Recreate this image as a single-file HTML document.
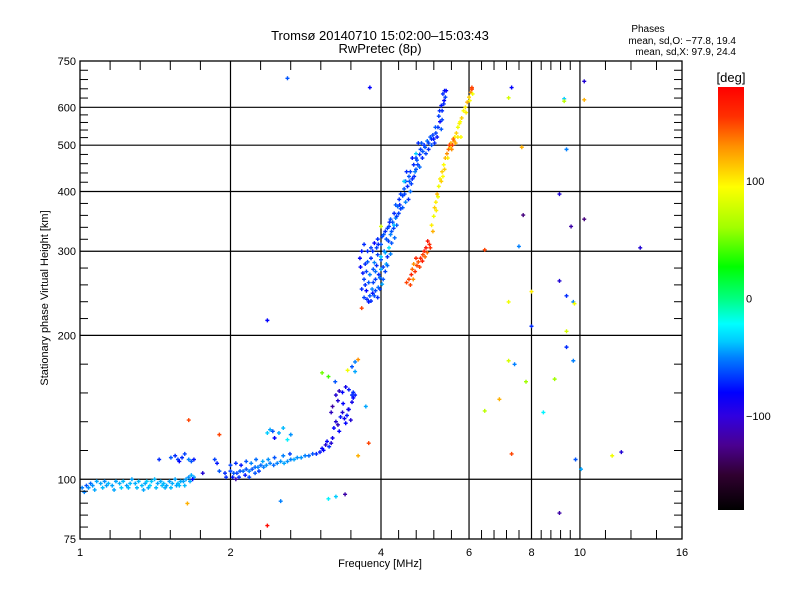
<!DOCTYPE html>
<html><head><meta charset="utf-8"><style>
body{margin:0;background:#fff}
svg{display:block;font-family:"Liberation Sans",sans-serif}
</style></head><body>
<svg id="chart" width="800" height="600" viewBox="0 0 800 600" xmlns="http://www.w3.org/2000/svg">
<defs>
<linearGradient id="cbar" x1="0" y1="1" x2="0" y2="0">
<stop offset="0" stop-color="#000000"/>
<stop offset="0.083" stop-color="#300030"/>
<stop offset="0.153" stop-color="#4a0090"/>
<stop offset="0.222" stop-color="#3000e0"/>
<stop offset="0.278" stop-color="#0000ff"/>
<stop offset="0.36" stop-color="#0080ff"/>
<stop offset="0.397" stop-color="#00c8ff"/>
<stop offset="0.44" stop-color="#00ffff"/>
<stop offset="0.5" stop-color="#00ff80"/>
<stop offset="0.575" stop-color="#00ff00"/>
<stop offset="0.667" stop-color="#a0ff00"/>
<stop offset="0.764" stop-color="#ffff00"/>
<stop offset="0.86" stop-color="#ff9000"/>
<stop offset="0.93" stop-color="#ff3000"/>
<stop offset="1" stop-color="#ff0000"/>
</linearGradient>
</defs>
<rect x="0" y="0" width="800" height="600" fill="#fff"/>
<text x="380" y="40" font-size="13" text-anchor="middle">Tromsø 20140710 15:02:00–15:03:43</text>
<text x="380" y="53" font-size="13" text-anchor="middle">RwPretec (8p)</text>
<text x="648" y="32" font-size="10" text-anchor="middle">Phases</text>
<text x="736" y="44" font-size="10" text-anchor="end">mean, sd,O: −77.8, 19.4</text>
<text x="736" y="55" font-size="10" text-anchor="end">mean, sd,X:  97.9, 24.4</text>
<g id="grid"></g>
<g id="marks"></g>
<g id="axes"></g>
<text x="380" y="567" font-size="11" text-anchor="middle">Frequency [MHz]</text>
<text x="48" y="298" font-size="11" text-anchor="middle" transform="rotate(-90 48 298)">Stationary phase Virtual Height [km]</text>
<rect x="718" y="87" width="26" height="423" fill="url(#cbar)"/>
<text x="731" y="82" font-size="13" text-anchor="middle">[deg]</text>
<g id="cbticks"></g>
</svg>
<script>
const xMajor=[1,2,4,6,8,10,16];
const xLabels=["1","2","4","6","8","10","16"];
const yMajor=[75,100,200,300,400,500,600,750];
const yLabels=["75","100","200","300","400","500","600","750"];
const cbTicks=[100,0,-100];
const cbLabels=["100","0","−100"];
// [frequency MHz, virtual height km, phase deg]
const lowBand=[[1.01,96,-70],[1.03,97,-80],[1.05,98,-75],[1.06,97,-65],[1.08,99,-60],[1.10,98,-60],[1.12,99,-65],[1.14,98,-55],[1.16,97,-60],[1.18,99,-60],[1.20,98,-58],[1.22,99,-55],[1.24,97,-62],[1.27,100,-60],[1.29,98,-58],[1.31,99,-55],[1.33,97,-55],[1.35,98,-60],[1.37,96,-58],[1.39,99,-52],[1.41,100,-55],[1.43,98,-60],[1.45,99,-58],[1.47,98,-55],[1.49,97,-60],[1.51,99,-62],[1.53,98,-58],[1.55,100,-60],[1.57,98,-55],[1.59,99,-58],[1.61,99,-60],[1.63,100,-62],[1.65,101,-65],[1.67,102,-58],[1.69,101,-62],[1.04,96,-65],[1.13,97,-62],[1.26,98,-55],[1.36,99,-50],[1.46,97,-55],[1.56,97,-60]];
const lowBand2=[[1.02,94,-70],[1.07,95,-60],[1.11,96,-55],[1.17,95,-60],[1.21,96,-50],[1.25,96,-55],[1.30,96,-55],[1.34,95,-60],[1.38,97,-50],[1.42,96,-55],[1.48,96,-58],[1.52,96,-55],[1.58,97,-55],[1.62,97,-55],[1.66,99,-60]];
const upperBlobs=[[1.52,111,-80],[1.55,112,-90],[1.57,110,-85],[1.58,109,-100],[1.60,111,-90],[1.62,113,-85],[1.65,110,-70],[1.67,109,-80],[1.69,110,-95],[1.44,110,-90],[1.86,110,-85],[1.88,108,-95],[1.68,100,-100],[1.76,103,-110],[2.05,100,-120]];
const risingBand=[[1.90,104,-80],[1.95,103,-90],[2.00,104,-85],[2.03,103,-80],[2.06,103,-85],[2.09,104,-80],[2.12,104,-75],[2.15,105,-80],[2.18,104,-70],[2.21,105,-80],[2.24,106,-75],[2.27,106,-70],[2.30,107,-75],[2.33,106,-70],[2.36,107,-65],[2.40,108,-70],[2.44,107,-75],[2.48,108,-70],[2.52,109,-65],[2.56,108,-60],[2.60,109,-65],[2.64,110,-70],[2.68,110,-60],[2.72,111,-65],[2.77,111,-65],[2.82,112,-70],[2.87,112,-75],[2.92,113,-80],[2.97,113,-90],[3.02,114,-95],[3.07,115,-100],[2.00,107,-85],[2.05,108,-90],[2.10,107,-95],[2.15,109,-80],[2.20,108,-70],[2.25,110,-75],[2.32,109,-60],[2.38,110,-65],[2.45,111,-80],[2.55,112,-70],[2.63,113,-85]];
const risingBand2=[[1.96,101,-90],[2.02,101,-95],[2.08,101,-90],[2.14,102,-95],[2.18,101,-85],[2.24,103,-80],[2.28,104,-85]];
const midBlob=[[2.37,125,-50],[2.40,127,-60],[2.43,126,-80],[2.50,125,-60],[2.55,128,-55],[2.60,121,-40],[2.64,124,-65],[2.45,122,-100]];
const cusp=[[3.05,116,-100],[3.10,118,-110],[3.12,120,-100],[3.15,117,-90],[3.18,119,-110],[3.20,122,-105],[3.22,128,-100],[3.25,132,-110],[3.28,130,-115],[3.30,126,-100],[3.32,135,-95],[3.35,138,-110],[3.38,134,-105],[3.40,131,-100],[3.42,136,-95],[3.45,140,-100],[3.48,133,-110],[3.50,145,-105],[3.52,148,-100],[3.55,150,-95],[3.25,150,-110],[3.30,153,-115],[3.35,152,-100],[3.40,156,-105],[3.45,154,-95],[3.50,150,-90],[3.20,142,-120],[3.28,146,-110],[3.36,144,-100],[3.44,140,-105],[3.52,152,-90],[3.18,138,-115],[3.24,160,-80],[3.50,172,-80],[3.55,176,-70],[3.55,168,-60],[3.14,164,40]];
const oTrace=[[3.70,240,-85],[3.75,238,-90],[3.80,242,-80],[3.85,245,-95],[3.90,248,-85],[3.95,252,-75],[3.72,255,-90],[3.78,258,-80],[3.84,250,-70],[3.90,262,-85],[3.96,268,-90],[4.02,256,-60],[3.68,270,-95],[3.74,272,-85],[3.80,268,-70],[3.86,275,-80],[3.92,280,-90],[3.98,264,-75],[4.04,278,-85],[4.10,282,-60],[3.63,290,-100],[3.66,300,-95],[3.70,310,-90],[3.76,285,-80],[3.82,290,-90],[3.88,284,-70],[3.94,295,-85],[4.00,288,-80],[4.06,300,-75],[4.12,292,-90],[4.18,296,-70],[3.85,300,-90],[3.92,305,-85],[4.00,310,-80],[4.08,298,-60],[4.14,315,-85],[4.20,312,-80],[4.26,320,-75],[3.95,310,-90],[4.02,322,-85],[4.10,318,-80],[4.18,325,-70],[4.24,335,-85],[4.30,340,-80],[4.08,330,-90],[4.15,338,-85],[4.22,345,-80],[4.28,352,-70],[4.34,360,-85],[4.18,350,-80],[4.25,360,-90],[4.32,372,-75],[4.38,368,-85],[4.28,375,-80],[4.35,385,-90],[4.42,392,-85],[4.48,380,-70],[4.38,395,-85],[4.45,405,-80],[4.52,410,-90],[4.58,400,-75],[4.48,420,-85],[4.55,430,-80],[4.62,425,-90],[4.68,440,-70],[4.58,440,-85],[4.65,455,-90],[4.72,465,-80],[4.78,450,-75],[4.70,470,-85],[4.78,478,-90],[4.85,485,-80],[4.80,490,-85],[4.88,500,-90],[4.95,510,-75],[4.90,495,-80],[4.98,505,-85],[5.05,515,-90],[5.02,520,-80],[5.10,515,-95],[5.15,530,-85],[5.20,545,-90],[5.25,560,-100],[5.22,575,-85],[5.30,590,-90],[5.28,605,-95],[5.35,620,-100],[5.32,640,-90],[5.38,630,-85],[5.36,650,-95],[4.75,505,-90],[4.62,470,-95],[4.50,440,-90]];
const oTrace2=[[3.66,250,-90],[3.70,262,-85],[3.74,248,-100],[3.78,235,-95],[3.82,236,-90],[3.86,258,-85],[3.88,242,-80],[3.94,240,-90],[3.98,250,-85],[4.04,262,-80],[4.08,272,-85],[4.12,280,-75],[3.72,282,-90],[3.64,278,-100],[3.90,272,-75],[4.0,275,-60],[3.76,300,-90],[3.82,305,-85],[3.88,312,-100],[3.94,318,-90],[4.05,325,-80],[4.12,335,-85],[4.16,345,-90],[4.20,330,-80],[4.30,355,-85],[4.36,375,-90],[4.42,370,-80],[4.46,395,-85],[4.54,385,-90],[4.56,420,-80],[4.60,415,-85],[4.66,430,-90],[4.70,445,-80],[4.74,455,-85],[4.84,470,-90],[4.82,505,-80],[4.92,480,-85],[4.98,490,-90],[5.05,500,-80],[5.08,525,-85],[5.12,505,-90],[5.14,545,-80],[5.18,520,-95],[5.24,590,-90],[5.30,565,-85],[5.34,610,-90],[5.40,650,-100],[5.28,540,-80],[4.0,292,-50],[4.15,305,-45],[4.25,340,-55],[4.45,420,-50],[4.7,480,-50]];
const xTrace=[[4.55,262,150],[4.60,268,160],[4.62,275,140],[4.68,272,155],[4.72,280,150],[4.75,285,145],[4.80,290,160],[4.85,295,150],[4.88,300,165],[4.92,305,170],[4.95,298,140],[5.00,310,160],[4.50,258,150],[4.65,282,130],[5.05,340,100],[5.10,355,90],[5.12,370,110],[5.15,380,100],[5.18,395,120],[5.22,410,90],[5.25,425,100],[5.30,440,110],[5.34,455,95],[5.38,470,120],[5.42,480,130],[5.46,490,140],[5.50,495,110],[5.52,505,120],[5.56,500,150],[5.60,510,130],[5.62,520,100],[5.66,530,110],[5.70,545,90],[5.74,555,100],[5.80,570,110],[5.85,590,95],[5.90,600,100],[5.95,615,120],[6.00,630,110],[6.05,645,130],[6.08,655,150],[6.10,640,90],[5.78,520,95]];
const xTrace2=[[4.58,255,150],[4.64,262,130],[4.70,290,160],[4.78,278,150],[4.84,286,165],[4.90,292,140],[4.96,315,170],[5.02,305,155],[5.08,330,120],[5.16,365,100],[5.20,390,90],[5.28,420,110],[5.32,430,95],[5.36,445,110],[5.44,470,100],[5.48,500,150],[5.54,490,130],[5.58,515,140],[5.64,505,120],[5.70,520,100],[5.76,560,95],[5.92,585,100],[6.02,620,95],[6.08,660,150]];
const scattered=[[7.3,660,-100],[7.2,628,80],[9.3,625,-50],[9.3,618,70],[10.2,680,-110],[10.2,622,120],[7.65,495,120],[9.4,490,-70],[9.1,395,-110],[7.7,357,-130],[10.2,350,-130],[9.6,338,-120],[7.55,307,-70],[6.45,302,150],[13.2,305,-110],[9.1,260,-110],[8.0,247,100],[7.2,235,90],[9.4,242,-90],[9.7,235,-70],[9.75,233,90],[8.0,209,-90],[9.4,204,80],[9.4,189,-90],[9.7,177,-70],[7.2,177,80],[7.4,174,-70],[7.8,160,60],[8.9,162,60],[6.9,147,120],[6.45,139,70],[8.45,138,-40],[7.3,113,150],[11.6,112,90],[12.1,114,-110],[9.8,110,-80],[10.05,105,-60],[9.1,85,-120],[2.6,690,-80],[3.8,660,-100],[2.37,215,-100],[3.66,228,150],[4.0,338,80],[1.65,133,150],[1.9,124,150],[1.64,89,120],[2.52,90,-70],[3.14,91,-40],[3.25,92,-50],[3.39,93,-120],[2.37,80,175],[3.6,178,130],[3.43,169,90],[3.05,167,50],[3.78,119,150],[3.6,112,120],[3.73,142,-60]];

const NS="http://www.w3.org/2000/svg";
const X0=80,X1=682,Y0=61,Y1=539;
function xs(f){return X0+(X1-X0)*Math.log2(f)/4;}
function ys(h){return Y1-(Y1-Y0)*Math.log10(h/75);}
function cbY(p){return 510-(p+180)/360*423;}
const cstops=[[-180,[0,0,0]],[-150,[48,0,48]],[-125,[74,0,144]],[-100,[0,0,255]],[-70,[0,128,255]],[-37,[0,255,255]],[0,[0,255,128]],[27,[0,255,0]],[60,[160,255,0]],[95,[255,255,0]],[130,[255,144,0]],[155,[255,48,0]],[180,[255,0,0]]];
function pcol(p){
  for(let i=1;i<cstops.length;i++){
    if(p<=cstops[i][0]){const a=cstops[i-1],b=cstops[i];const t=(p-a[0])/(b[0]-a[0]);
      const c=a[1].map((v,k)=>Math.round(v+(b[1][k]-v)*t));return `rgb(${c[0]},${c[1]},${c[2]})`;}
  }
  return "rgb(255,0,0)";
}
function el(tag,attrs,parent){const e=document.createElementNS(NS,tag);for(const k in attrs)e.setAttribute(k,attrs[k]);parent.appendChild(e);return e;}
const grid=document.getElementById('grid'),axes=document.getElementById('axes'),marks=document.getElementById('marks');
xMajor.slice(1,-1).forEach(f=>{const l=el('line',{x1:xs(f),x2:xs(f),y1:Y0,y2:Y1,stroke:'#000','stroke-width':1.2},grid);

});
yMajor.slice(1,-1).forEach(h=>{const l=el('line',{x1:X0,x2:X1,y1:ys(h),y2:ys(h),stroke:'#000','stroke-width':1.2},grid);

});
for(let i=0;i<xMajor.length-1;i++){
  const a=xMajor[i],b=xMajor[i+1];const n=(a===10)?3:4;
  for(let k=1;k<=n;k++){const f=a*Math.pow(b/a,k/(n+1));const x=xs(f);
    el('line',{x1:x,x2:x,y1:Y1,y2:Y1-9,stroke:'#000','stroke-width':1},axes);
    el('line',{x1:x,x2:x,y1:Y0,y2:Y0+9,stroke:'#000','stroke-width':1},axes);}
}
for(let i=0;i<yMajor.length-1;i++){
  const a=yMajor[i],b=yMajor[i+1];
  for(let k=1;k<=4;k++){const h=a*Math.pow(b/a,k/5);const y=ys(h);
    el('line',{x1:X0,x2:X0+8,y1:y,y2:y,stroke:'#000','stroke-width':1},axes);
    el('line',{x1:X1,x2:X1-8,y1:y,y2:y,stroke:'#000','stroke-width':1},axes);}
}
const fr=el('rect',{x:X0,y:Y0,width:X1-X0,height:Y1-Y0,fill:'none',stroke:'#000','stroke-width':1.3},axes);


xMajor.forEach((f,i)=>{const t=el('text',{x:xs(f),y:556,'font-size':11,'text-anchor':'middle'},axes);t.textContent=xLabels[i];

});
yMajor.forEach((h,i)=>{const t=el('text',{x:76,y:ys(h)+4,'font-size':11,'text-anchor':'end'},axes);t.textContent=yLabels[i];

});
const cbg=document.getElementById('cbticks');
cbTicks.forEach((p,i)=>{const t=el('text',{x:746,y:cbY(p)+4,'font-size':11},cbg);t.textContent=cbLabels[i];

});
[lowBand,lowBand2,upperBlobs,risingBand,risingBand2,midBlob,cusp,oTrace,oTrace2,xTrace,xTrace2,scattered].forEach(set=>{
  set.forEach(d=>{const x=xs(d[0]),y=ys(d[1]);
    const p=el('path',{d:`M${x-2} ${y}h4M${x} ${y-2}v4`,stroke:pcol(d[2]),'stroke-width':1.4,fill:'none'},marks);
    
    });
});
</script>
</body></html>
